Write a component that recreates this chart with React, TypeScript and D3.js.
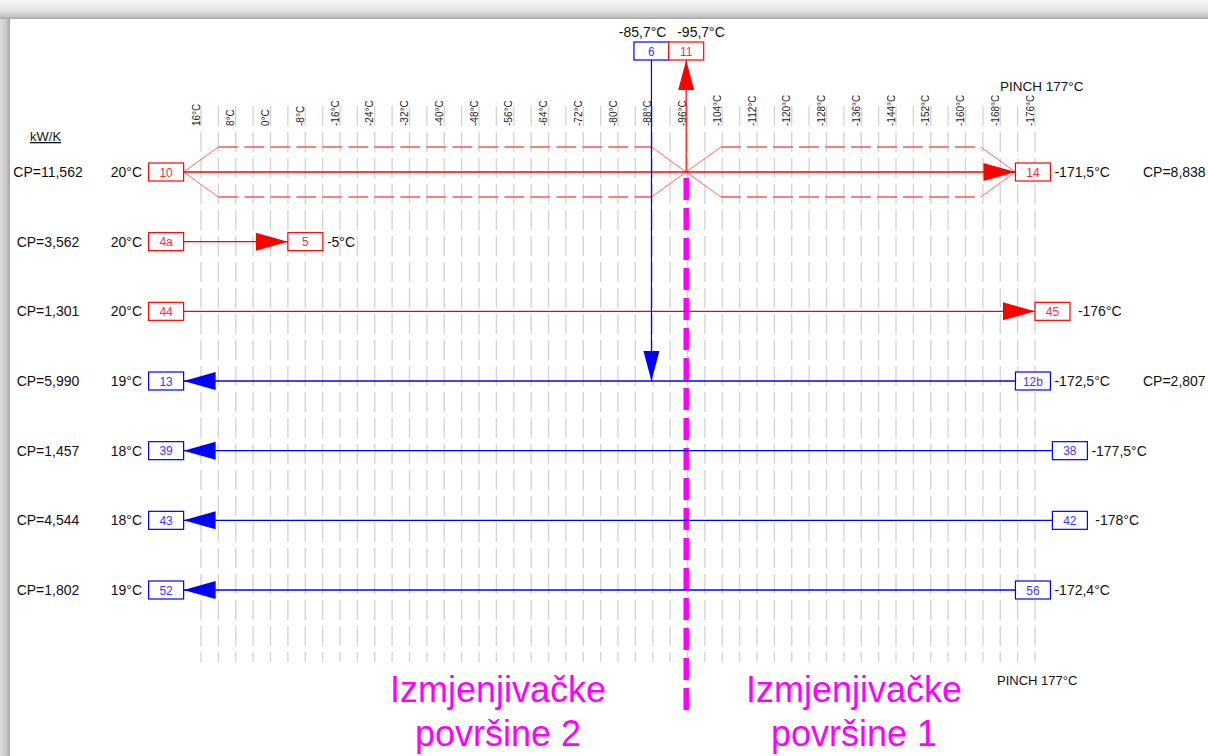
import React, { useEffect, useRef } from "react";
import * as d3 from "d3";

// stream rows, top to bottom
const cpLeft = ["CP=11,562", "CP=3,562", "CP=1,301", "CP=5,990", "CP=1,457", "CP=4,544", "CP=1,802"];
const cpRight = ["CP=8,838", "", "", "CP=2,807", "", "", ""];
const inletLabels = ["20°C", "20°C", "20°C", "19°C", "18°C", "18°C", "19°C"];
const outletLabels = ["-171,5°C", "-5°C", " -176°C", "-172,5°C", "-177,5°C", " -178°C", "-172,4°C"];
const leftIds = ["10", "4a", "44", "13", "39", "43", "52"];
const rightIds = ["14", "5", "45", "12b", "38", "42", "56"];
const streamKind = ["hot", "hot", "hot", "cold", "cold", "cold", "cold"];
const leftSlot = [20, 20, 20, 20, 20, 20, 20];
const rightSlot = [-171.5, -4, -176, -171.5, -180, -180, -171.5];

// split streams going up to the top boxes
const splitIds = ["6", "11"];
const splitTemps = [-87.7, -95.7];
const splitLabels = ["-85,7°C", "-95,7°C"];
const splitKind = ["cold", "hot"];
const splitRow = [3, 0];

// heat exchanger envelopes on stream 10
const exchangers = [[20, -95.7], [-95.7, -171.5]];
const taper = 8;
const pinchTemp = -95.7;

const gridTemps = d3.range(16, -177, -4);
const tickTemps = d3.range(16, -177, -8);

const FONT = "'Liberation Sans', Arial, sans-serif";
const RED = "#ff0000";
const BLUE = "#0000ff";

export default function App() {
  const ref = useRef<SVGSVGElement>(null);

  useEffect(() => {
    const svg = d3.select(ref.current);
    svg.selectAll("*").remove();

    const x = d3.scaleLinear().domain([16, -176]).range([201, 1035]);
    const y = d3.scaleLinear().domain([0, 6]).range([172, 590]);
    const col = (k: string) => (k === "hot" ? RED : BLUE);
    const txtCol = (k: string) => (k === "hot" ? "#ff2a3a" : "#4433ff");
    const boxW = 35, boxH = 18, arrL = 32, arrH = 9;

    // window frame shadow
    const defs = svg.append("defs");
    const gt = defs.append("linearGradient").attr("id", "gtop").attr("x1", 0).attr("y1", 0).attr("x2", 0).attr("y2", 1);
    gt.append("stop").attr("offset", 0).attr("stop-color", "#f8f8f8");
    gt.append("stop").attr("offset", 0.55).attr("stop-color", "#e2e2e2");
    gt.append("stop").attr("offset", 0.85).attr("stop-color", "#c8c8c8");
    gt.append("stop").attr("offset", 1).attr("stop-color", "#a8a8a8");
    const gl = defs.append("linearGradient").attr("id", "gleft").attr("x1", 0).attr("y1", 0).attr("x2", 1).attr("y2", 0);
    gl.append("stop").attr("offset", 0).attr("stop-color", "#dcdcdc");
    gl.append("stop").attr("offset", 0.6).attr("stop-color", "#c9c9c9");
    gl.append("stop").attr("offset", 1).attr("stop-color", "#a6a6a6");

    svg.append("rect").attr("width", 1208).attr("height", 756).attr("fill", "#fff");
    svg.append("rect").attr("x", 0).attr("y", 0).attr("width", 1208).attr("height", 19).attr("fill", "url(#gtop)");
    svg.append("rect").attr("x", 0).attr("y", 19).attr("width", 10).attr("height", 737).attr("fill", "url(#gleft)");

    // temperature grid
    svg.append("g")
      .selectAll("line")
      .data(gridTemps)
      .join("line")
      .attr("x1", (d) => x(d)).attr("x2", (d) => x(d))
      .attr("y1", 106).attr("y2", 662)
      .attr("stroke", "#d2d2d2").attr("stroke-width", 1.3)
      .attr("stroke-dasharray", "20,6");

    svg.append("g")
      .selectAll("text")
      .data(tickTemps)
      .join("text")
      .attr("transform", (d) => `translate(${x(d) - 1.5},126) rotate(-90)`)
      .attr("font-family", FONT).attr("font-size", 10).attr("fill", "#222")
      .text((d) => `${d}°C`);

    // pinch labels and units
    svg.append("text").attr("x", 1000).attr("y", 91).attr("font-family", FONT).attr("font-size", 13.5).attr("fill", "#111").text("PINCH 177°C");
    svg.append("text").attr("x", 997).attr("y", 685).attr("font-family", FONT).attr("font-size", 13).attr("fill", "#111").text("PINCH 177°C");
    svg.append("text").attr("x", 30).attr("y", 141).attr("font-family", FONT).attr("font-size", 13).attr("fill", "#111")
      .attr("text-decoration", "underline").text("kW/K");

    // exchanger envelopes
    const env = svg.append("g");
    const ey = y(0);
    exchangers.forEach(([a, b]) => {
      [-25, 25].forEach((dy) => {
        env.append("line")
          .attr("x1", x(a - taper)).attr("x2", x(b + taper))
          .attr("y1", ey + dy).attr("y2", ey + dy)
          .attr("stroke", "#ff5555").attr("stroke-width", 1.5).attr("stroke-dasharray", "20,6");
        env.append("line")
          .attr("x1", x(a)).attr("y1", ey).attr("x2", x(a - taper)).attr("y2", ey + dy)
          .attr("stroke", "#ff6666").attr("stroke-width", 1);
        env.append("line")
          .attr("x1", x(b)).attr("y1", ey).attr("x2", x(b + taper)).attr("y2", ey + dy)
          .attr("stroke", "#ff6666").attr("stroke-width", 1);
      });
    });

    // magenta split line
    svg.append("line")
      .attr("x1", x(pinchTemp)).attr("x2", x(pinchTemp))
      .attr("y1", y(0) + 6).attr("y2", 716)
      .attr("stroke", "#ff00ff").attr("stroke-width", 5.5).attr("stroke-dasharray", "22,8");

    // streams
    const rows = cpLeft.map((cp, i) => ({
      cp, cpR: cpRight[i], tin: inletLabels[i], tout: outletLabels[i],
      lid: leftIds[i], rid: rightIds[i], kind: streamKind[i],
      xl: x(leftSlot[i]), xr: x(rightSlot[i]), yy: y(i),
    }));

    const g = svg.append("g");
    rows.forEach((r) => {
      const c = col(r.kind);
      g.append("line").attr("x1", r.xl).attr("x2", r.xr).attr("y1", r.yy).attr("y2", r.yy)
        .attr("stroke", c).attr("stroke-width", 1.4);
      const tri = r.kind === "hot"
        ? [[r.xr, r.yy], [r.xr - arrL, r.yy - arrH], [r.xr - arrL, r.yy + arrH]]
        : [[r.xl, r.yy], [r.xl + arrL, r.yy - arrH], [r.xl + arrL, r.yy + arrH]];
      g.append("path").attr("d", d3.line()(tri as [number, number][]) + "Z").attr("fill", c);

      [[r.xl - boxW, r.lid], [r.xr, r.rid]].forEach(([bx, id]) => {
        g.append("rect").attr("x", bx as number).attr("y", r.yy - boxH / 2).attr("width", boxW).attr("height", boxH)
          .attr("fill", "#fff").attr("stroke", c).attr("stroke-width", 1.2);
        g.append("text").attr("x", (bx as number) + boxW / 2).attr("y", r.yy + 4.5).attr("text-anchor", "middle")
          .attr("font-family", FONT).attr("font-size", 12).attr("fill", txtCol(r.kind)).text(id as string);
      });

      g.append("text").attr("x", 48).attr("y", r.yy + 5).attr("text-anchor", "middle")
        .attr("font-family", FONT).attr("font-size", 14).attr("fill", "#111").text(r.cp);
      g.append("text").attr("x", 142).attr("y", r.yy + 5).attr("text-anchor", "end")
        .attr("font-family", FONT).attr("font-size", 14).attr("fill", "#111").text(r.tin);
      g.append("text").attr("x", r.xr + boxW + 4).attr("y", r.yy + 5)
        .attr("font-family", FONT).attr("font-size", 14).attr("fill", "#111")
        .style("white-space", "pre").text(r.tout);
      if (r.cpR) {
        g.append("text").attr("x", 1143).attr("y", r.yy + 5)
          .attr("font-family", FONT).attr("font-size", 14).attr("fill", "#111").text(r.cpR);
      }
    });

    // split streams to top boxes
    const topY = 60;
    splitIds.forEach((id, i) => {
      const sx = x(splitTemps[i]);
      const sy = y(splitRow[i]);
      const c = col(splitKind[i]);
      g.append("line").attr("x1", sx).attr("x2", sx).attr("y1", topY).attr("y2", sy)
        .attr("stroke", c).attr("stroke-width", 1.2);
      const tri = splitKind[i] === "hot"
        ? [[sx, topY], [sx - 8, topY + 30], [sx + 8, topY + 30]]
        : [[sx, sy], [sx - 8, sy - 30], [sx + 8, sy - 30]];
      g.append("path").attr("d", d3.line()(tri as [number, number][]) + "Z").attr("fill", c);
      g.append("rect").attr("x", sx - boxW / 2).attr("y", topY - boxH).attr("width", boxW).attr("height", boxH)
        .attr("fill", "#fff").attr("stroke", c).attr("stroke-width", 1.2);
      g.append("text").attr("x", sx).attr("y", topY - 4.5).attr("text-anchor", "middle")
        .attr("font-family", FONT).attr("font-size", 12).attr("fill", txtCol(splitKind[i])).text(id);
      g.append("text")
        .attr("x", splitKind[i] === "cold" ? sx + 15 : sx - 9)
        .attr("y", 37)
        .attr("text-anchor", splitKind[i] === "cold" ? "end" : "start")
        .attr("font-family", FONT).attr("font-size", 14).attr("fill", "#111").text(splitLabels[i]);
    });

    // exchanger area captions
    const cap = [["Izmjenjivačke", "površine 2", 498], ["Izmjenjivačke", "površine 1", 854]];
    cap.forEach(([l1, l2, cx]) => {
      const t = svg.append("text").attr("text-anchor", "middle").attr("font-family", FONT)
        .attr("font-size", 36).attr("fill", "#ff00ff");
      t.append("tspan").attr("x", cx as number).attr("y", 702).text(l1 as string);
      t.append("tspan").attr("x", cx as number).attr("y", 746).text(l2 as string);
    });
  }, []);

  return (
    <svg
      ref={ref}
      width={1208}
      height={756}
      style={{ position: "absolute", left: 0, top: 0, display: "block" }}
    />
  );
}
